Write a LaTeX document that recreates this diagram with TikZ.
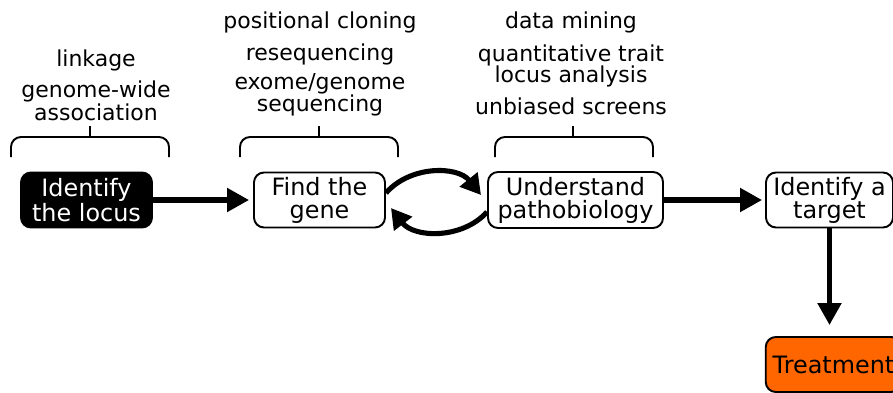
\documentclass[tikz,border=0pt]{standalone}
\usepackage{fontspec}
\setmainfont{DejaVu Sans}
\usetikzlibrary{arrows.meta}
\definecolor{treatorange}{HTML}{FF6600}
\begin{document}
\begin{tikzpicture}[
	stepbox/.style={draw=black, line width=1.1pt, rounded corners=0.2cm, align=center, minimum height=1.1cm, inner xsep=0.1cm, inner ysep=0pt, font=\fontsize{13.6}{13}\selectfont},
	methodtext/.style={black, anchor=base, inner sep=0pt, font=\fontsize{12.5}{12}\selectfont},
	flow/.style={draw=black, line width=2.9pt, -{Triangle[length=0.44cm, width=0.46cm]}},
	loopflow/.style={draw=black, line width=2.9pt, -{Triangle[length=0.40cm, width=0.44cm]}},
	brace/.style={draw=black, line width=1.1pt, rounded corners=0.2cm}]
	\useasboundingbox (0,0) rectangle (17.86,7.84);
	\node[stepbox, fill=black, text=white, minimum width=2.62cm] (locus) at (1.73,3.84) {Identify\\the locus};
	\node[stepbox, minimum width=2.62cm] (gene) at (6.39,3.84) {Find the\\gene};
	\node[stepbox, minimum width=3.50cm, minimum height=1.12cm] (patho) at (11.51,3.84) {Understand\\pathobiology};
	\node[stepbox, minimum width=2.54cm] (target) at (16.59,3.84) {Identify a\\target};
	\node[stepbox, fill=treatorange, minimum width=2.71cm] (treat) at (16.67,0.55) {Treatment};
	\draw[flow, shorten >=0.08cm] (locus.east) -- (gene.west);
	\draw[flow, shorten >=0.06cm] (patho.east) -- (target.west);
	\draw[flow, shorten >=0.22cm] (target.south) -- (target.south |- treat.north);
	\draw[loopflow] ([yshift=0.14cm]gene.east) to[bend left=50] ([xshift=-0.12cm, yshift=0.10cm]patho.west);
	\draw[loopflow] ([yshift=-0.24cm]patho.west) to[bend left=50] ([xshift=0.10cm, yshift=-0.16cm]gene.east);
	\draw[brace] (0.22,4.70) -- (0.22,5.10) -- (3.38,5.10) -- (3.38,4.70);
	\draw[brace] (1.80,5.10) -- (1.80,5.32);
	\draw[brace] (4.80,4.70) -- (4.80,5.10) -- (7.96,5.10) -- (7.96,4.70);
	\draw[brace] (6.38,5.10) -- (6.38,5.32);
	\draw[brace] (9.90,4.70) -- (9.90,5.10) -- (13.06,5.10) -- (13.06,4.70);
	\draw[brace] (11.46,5.10) -- (11.46,5.32);
	\node[methodtext] (linkage) at (1.92,6.52) {linkage};
	\node[methodtext] (gwasa) at (1.92,5.90) {genome-wide};
	\node[methodtext] (gwasb) at (1.92,5.44) {association};
	\node[methodtext] (cloning) at (6.40,7.28) {positional cloning};
	\node[methodtext] (reseq) at (6.40,6.64) {resequencing};
	\node[methodtext] (exomea) at (6.40,6.06) {exome/genome};
	\node[methodtext] (exomeb) at (6.40,5.62) {sequencing};
	\node[methodtext] (mining) at (11.42,7.28) {data mining};
	\node[methodtext] (qtla) at (11.42,6.62) {quantitative trait};
	\node[methodtext] (qtlb) at (11.42,6.20) {locus analysis};
	\node[methodtext] (screens) at (11.42,5.56) {unbiased screens};
\end{tikzpicture}
\end{document}
